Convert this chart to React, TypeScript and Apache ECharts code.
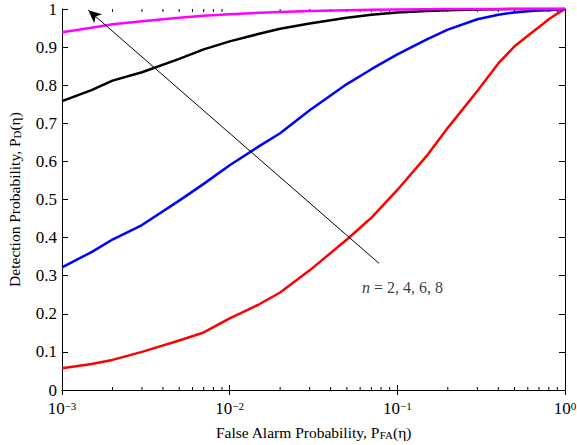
import React, { useEffect, useRef } from 'react';
import * as echarts from 'echarts';

// False-alarm probabilities (x) shared by all curves
const pfa = [0.001, 0.0015, 0.002, 0.003, 0.005, 0.007, 0.01, 0.015, 0.02, 0.03, 0.05, 0.07, 0.1, 0.15, 0.2, 0.3, 0.4, 0.5, 0.6, 0.7, 0.8, 0.9, 1.0];
// Detection probabilities for n = 2, 4, 6, 8
const pdN2 = [0.057, 0.068, 0.079, 0.1, 0.13, 0.151, 0.188, 0.225, 0.256, 0.314, 0.395, 0.452, 0.525, 0.615, 0.688, 0.785, 0.857, 0.902, 0.93, 0.953, 0.973, 0.988, 1.0];
const pdN4 = [0.322, 0.362, 0.395, 0.433, 0.497, 0.541, 0.59, 0.64, 0.674, 0.734, 0.803, 0.842, 0.881, 0.92, 0.946, 0.973, 0.985, 0.991, 0.994, 0.996, 0.997, 0.999, 1.0];
const pdN6 = [0.758, 0.787, 0.812, 0.834, 0.869, 0.894, 0.915, 0.935, 0.948, 0.962, 0.977, 0.985, 0.991, 0.995, 0.997, 0.999, 0.9995, 1.0, 1.0, 1.0, 1.0, 1.0, 1.0];
const pdN8 = [0.939, 0.951, 0.96, 0.968, 0.977, 0.982, 0.986, 0.99, 0.992, 0.995, 0.997, 0.998, 0.999, 0.9995, 1.0, 1.0, 1.0, 1.0, 1.0, 1.0, 1.0, 1.0, 1.0];

const seriesColors = ['#ff0000', '#0000ff', '#000000', '#ff00ff'];
const seriesNames = ['n = 2', 'n = 4', 'n = 6', 'n = 8'];

// Minor tick positions of the log axis
const minorMultipliers = [2, 3, 4, 5, 6, 7, 8, 9];
const decades = [0.001, 0.01, 0.1];

// Annotation (data coordinates)
const arrowTail = [0.0777, 0.3325];
const arrowTip = [0.001435, 0.997];
const annotationPos = [0.1074, 0.269];
const annotationText = ['n', ' = 2, 4, 6, 8'];

const FONT = "'Liberation Serif', 'Times New Roman', serif";

export default function App() {
  const ref = useRef<HTMLDivElement>(null);
  useEffect(() => {
    if (!ref.current) return;
    const chart = echarts.init(ref.current, undefined, { renderer: 'svg' });
    const minorTicks: number[][] = [];
    decades.forEach((d) => minorMultipliers.forEach((m) => minorTicks.push([d * m, 0])));
    const curves = [pdN2, pdN4, pdN6, pdN8];

    const xAxisBase = {
      type: 'log',
      logBase: 10,
      min: 0.001,
      max: 1,
      interval: 1,
      splitLine: { show: false },
      axisLine: { show: true, lineStyle: { color: '#000', width: 1 } },
      axisTick: { show: true, inside: true, length: 5, lineStyle: { color: '#000', width: 1 } },
    };
    const yAxisBase = {
      type: 'value',
      min: 0,
      max: 1,
      interval: 0.1,
      splitLine: { show: false },
      axisLine: { show: true, lineStyle: { color: '#000', width: 1 } },
      axisTick: { show: true, inside: true, length: 6, lineStyle: { color: '#000', width: 1 } },
    };
    const titleRich = {
      t: { fontFamily: FONT, fontSize: 15.5, color: '#000', lineHeight: 16 },
      sub: { fontFamily: FONT, fontSize: 11, color: '#000', lineHeight: 11, verticalAlign: 'bottom', padding: [10, 0, 0, 0] },
    };

    chart.setOption({
      animation: false,
      backgroundColor: '#ffffff',
      textStyle: { fontFamily: FONT, color: '#000' },
      grid: { left: 62, right: 12, top: 9, bottom: 55, containLabel: false, outerBoundsMode: 'none' },
      xAxis: [
        {
          ...xAxisBase,
          position: 'bottom',
          name: '{t|False Alarm Probability, P}{sub|FA}{t|(η)}',
          nameLocation: 'middle',
          nameGap: 34,
          nameMoveOverlap: false,
          nameTextStyle: { fontFamily: FONT, color: '#000', rich: titleRich },
          axisLabel: {
            show: true,
            margin: 10,
            formatter: (v: number) => {
              const e = Math.round(Math.log10(v));
              return `{b|10}{s|${e < 0 ? '−' + Math.abs(e) : e}}`;
            },
            rich: {
              b: { fontFamily: FONT, fontSize: 17, color: '#000', lineHeight: 17 },
              s: { fontFamily: FONT, fontSize: 11, color: '#000', lineHeight: 11, verticalAlign: 'top', padding: [0, 0, 12, 0] },
            },
          },
        },
        {
          ...xAxisBase,
          position: 'top',
          axisLabel: { show: false },
        },
      ],
      yAxis: [
        {
          ...yAxisBase,
          position: 'left',
          name: '{t|Detection Probability, P}{sub|D}{t|(η)}',
          nameLocation: 'middle',
          nameGap: 40,
          nameTextStyle: { fontFamily: FONT, color: '#000', rich: titleRich },
          axisLabel: { show: true, margin: 5, fontFamily: FONT, fontSize: 17, lineHeight: 12, color: '#000' },
        },
        {
          ...yAxisBase,
          position: 'right',
          axisLabel: { show: false },
        },
      ],
      series: [
        {
          type: 'custom',
          name: 'minorTicks',
          xAxisIndex: 0,
          yAxisIndex: 0,
          silent: true,
          clip: false,
          data: minorTicks,
          renderItem: (params: any, api: any) => {
            const x = api.value(0);
            const pb = api.coord([x, 0]);
            const pt = api.coord([x, 1]);
            return {
              type: 'group',
              children: [
                { type: 'line', shape: { x1: pb[0], y1: pb[1], x2: pb[0], y2: pb[1] - 3 }, style: { stroke: '#000', lineWidth: 1 } },
                { type: 'line', shape: { x1: pt[0], y1: pt[1], x2: pt[0], y2: pt[1] + 3 }, style: { stroke: '#000', lineWidth: 1 } },
              ],
            };
          },
        },
        ...curves.map((c, i) => ({
          type: 'line',
          name: seriesNames[i],
          xAxisIndex: 0,
          yAxisIndex: 0,
          data: pfa.map((x, j) => [x, c[j]]),
          showSymbol: false,
          symbol: 'none',
          smooth: false,
          clip: false,
          lineStyle: { color: seriesColors[i], width: 2.5, join: 'round' },
          itemStyle: { color: seriesColors[i] },
          z: 3,
        })),
        {
          type: 'line',
          name: 'arrow',
          xAxisIndex: 0,
          yAxisIndex: 0,
          data: [],
          z: 4,
          markLine: {
            silent: true,
            animation: false,
            symbol: ['none', 'arrow'],
            symbolSize: [9, 13],
            label: { show: false },
            lineStyle: { color: '#000', width: 1, type: 'solid' },
            data: [[{ coord: arrowTail }, { coord: arrowTip }]],
          },
        },
        {
          type: 'scatter',
          name: 'annotation',
          xAxisIndex: 0,
          yAxisIndex: 0,
          symbolSize: 0,
          silent: true,
          data: [annotationPos],
          z: 5,
          label: {
            show: true,
            position: 'inside',
            formatter: `{i|${annotationText[0]}}{r|${annotationText[1]}}`,
            rich: {
              i: { fontFamily: FONT, fontSize: 16, fontStyle: 'italic', color: '#000' },
              r: { fontFamily: FONT, fontSize: 16, color: '#000' },
            },
          },
        },
      ],
    });
    return () => chart.dispose();
  }, []);
  return <div ref={ref} style={{ position: 'absolute', left: 0, top: 0, width: 577, height: 445, background: '#fff' }} />;
}
